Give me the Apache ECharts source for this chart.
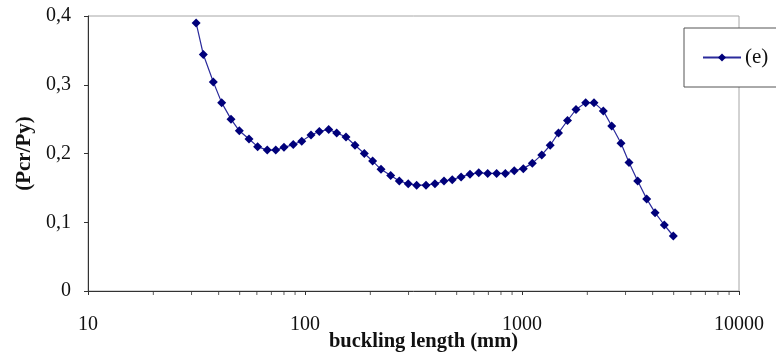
<!DOCTYPE html>
<html>
<head>
<meta charset="utf-8">
<script src="https://cdn.jsdelivr.net/npm/echarts@6/dist/echarts.min.js"></script>
<style>
  html, body { margin: 0; padding: 0; background: #fff; }
  #chart { width: 776px; height: 356px; }
</style>
</head>
<body>
<div id="chart"></div>
<script>
// buckling length (mm) and Pcr/Py
const lengths = [31.5, 34, 37.8, 41.3, 45.6, 49.8, 55.2, 60.5, 67, 73.3,
  80, 88.3, 96.6, 106.6, 116.4, 128.6, 140, 154.5, 170, 187.6,
  204.9, 224, 248.3, 272, 299, 327, 361, 397, 437, 477,
  524, 576, 632, 695, 764, 838, 921, 1014, 1116, 1233,
  1349, 1473, 1621, 1774, 1966, 2147, 2370, 2591, 2859, 3113,
  3414, 3755, 4103, 4528, 4981]
const ratios = [0.390, 0.344, 0.304, 0.274, 0.250, 0.233, 0.221, 0.210, 0.205, 0.205,
  0.209, 0.213, 0.218, 0.227, 0.232, 0.235, 0.230, 0.224, 0.212, 0.200,
  0.189, 0.177, 0.168, 0.160, 0.156, 0.154, 0.154, 0.156, 0.160, 0.162,
  0.166, 0.170, 0.172, 0.171, 0.171, 0.171, 0.175, 0.178, 0.186, 0.198,
  0.212, 0.230, 0.248, 0.264, 0.274, 0.274, 0.262, 0.240, 0.215, 0.187,
  0.160, 0.134, 0.114, 0.096, 0.080]
const minorTicks = [20, 30, 40, 50, 60, 70, 80, 90,
  200, 300, 400, 500, 600, 700, 800, 900,
  2000, 3000, 4000, 5000, 6000, 7000, 8000, 9000]
const seriesName = '(e)'

const chart = echarts.init(document.getElementById('chart'))
const serif = '"Liberation Serif", "Times New Roman", serif'

const option = {
  animation: false,
  grid: {
    left: 88, right: 37, top: 16, bottom: 65,
    outerBoundsMode: 'none',
    containLabel: false,
    show: true, borderColor: '#a6a6a6', borderWidth: 1, backgroundColor: '#fff'
  },
  legend: {
    data: [seriesName],
    left: 684, top: 28,
    orient: 'vertical',
    backgroundColor: '#fff',
    borderColor: '#555',
    borderWidth: 1,
    padding: [19, 40, 19, 18],
    itemWidth: 38,
    itemHeight: 10,
    itemGap: 0,
    textStyle: { fontFamily: serif, fontSize: 21, color: '#111', padding: [0, 0, 0, -1] }
  },
  xAxis: {
    type: 'log',
    logBase: 10,
    min: 10,
    max: 10000,
    name: 'buckling length (mm)',
    nameLocation: 'middle',
    nameGap: 40,
    nameMoveOverlap: false,
    nameTextStyle: { fontFamily: serif, fontSize: 20.5, fontWeight: 'bold', color: '#111', padding: [0, 0, 0, 20] },
    axisLine: { lineStyle: { color: '#333', width: 1 } },
    axisTick: { show: true, length: 4, lineStyle: { color: '#333' } },
    axisLabel: {
      fontFamily: serif, fontSize: 20, color: '#111', margin: 24,
      formatter: v => String(Math.round(v))
    },
    splitLine: { show: false }
  },
  yAxis: {
    type: 'value',
    min: 0,
    max: 0.4,
    interval: 0.1,
    name: '(Pcr/Py)',
    nameLocation: 'middle',
    nameRotate: 90,
    nameGap: 53,
    nameMoveOverlap: false,
    nameTextStyle: { fontFamily: serif, fontSize: 21, fontWeight: 'bold', color: '#111' },
    axisLine: { show: true, lineStyle: { color: '#333', width: 1 } },
    axisTick: { show: true, length: 4, lineStyle: { color: '#333' } },
    axisLabel: {
      fontFamily: serif, fontSize: 20, color: '#111', margin: 17,
      formatter: v => String(Math.round(v * 10) / 10).replace('.', ',')
    },
    splitLine: { show: false }
  },
  series: [
    {
      name: seriesName,
      type: 'line',
      data: lengths.map((l, i) => [l, ratios[i]]),
      symbol: 'diamond',
      symbolSize: 9,
      showSymbol: true,
      lineStyle: { color: '#2b2b9c', width: 1.2 },
      itemStyle: { color: '#00007a' },
      z: 3
    },
    {
      name: 'minor',
      type: 'scatter',
      data: minorTicks.map(t => [t, 0]),
      symbol: 'rect',
      symbolSize: [1, 4],
      symbolOffset: [0, 2],
      itemStyle: { color: '#333' },
      clip: false,
      silent: true,
      z: 1
    }
  ]
}

chart.setOption(option)
</script>
</body>
</html>
